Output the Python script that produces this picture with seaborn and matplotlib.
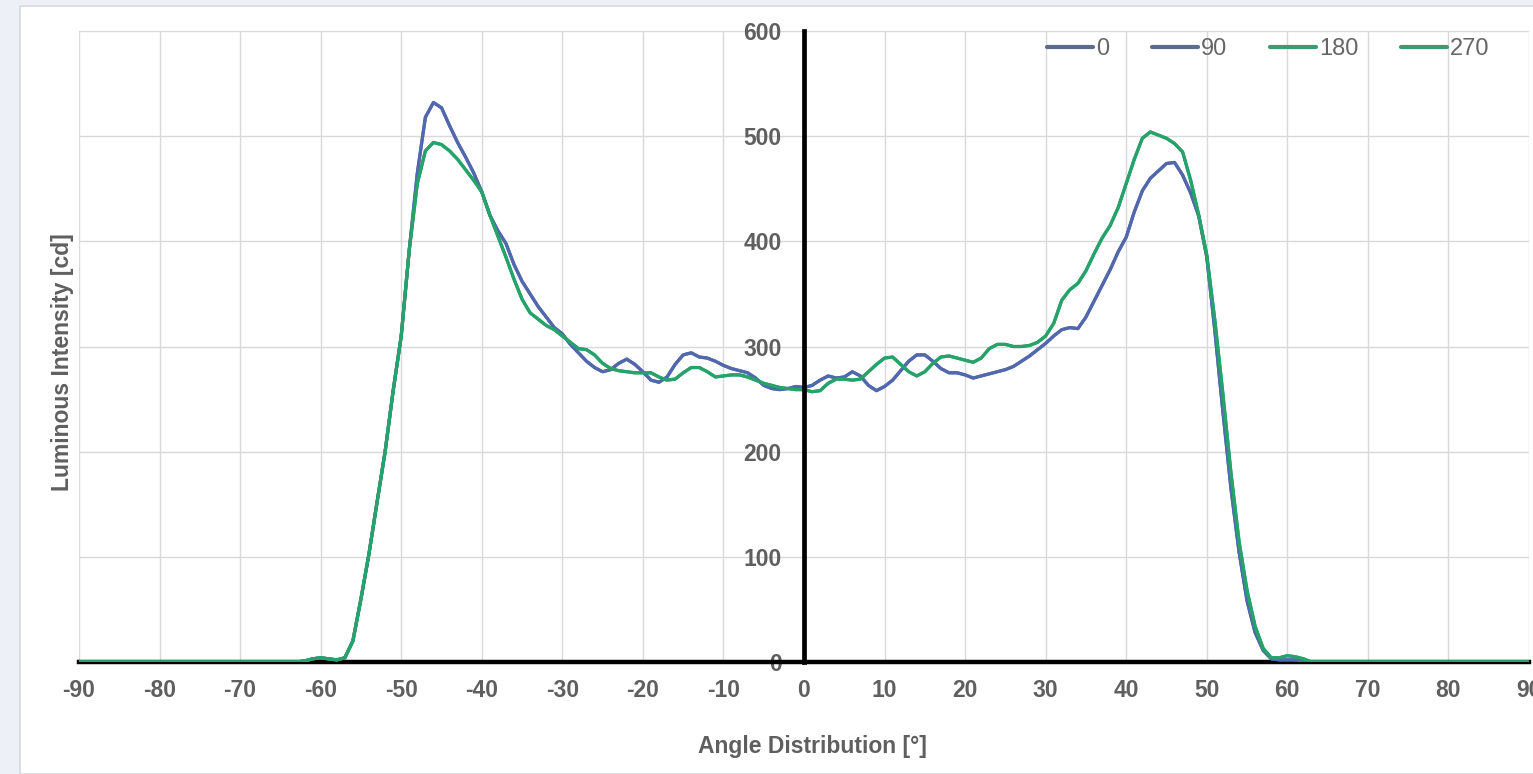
import numpy as np
import pandas as pd
import matplotlib
matplotlib.use("Agg")
import matplotlib.pyplot as plt
from matplotlib.lines import Line2D
from matplotlib.patches import Rectangle
import seaborn as sns

# ------------------------------------------
# Daten (1° Schritte von -90 bis 90)
# ------------------------------------------
angles = list(range(-90, 91))
series_names = ["0", "90", "180", "270"]

blue_mid = [
    1, 3, 4, 3, 2, 4, 20, 60, 103, 152, 200, 258, 310, 392, 465,        # -62 .. -48
    518, 532, 527, 510, 494, 480, 465, 447, 425, 410, 398, 378, 362,    # -47 .. -35
    350, 338, 328, 318, 312, 302, 294, 286, 280, 276, 278, 284, 288,    # -34 .. -22
    283, 276, 268, 266, 271, 283, 292, 294, 290, 289, 286, 282, 279,    # -21 .. -9
    277, 275, 270, 263, 260, 259, 260, 262, 261, 263, 268, 272, 270,    # -8 .. 4
    271, 276, 272, 263, 258, 262, 268, 277, 286, 292, 292, 286, 279,    # 5 .. 17
    275, 275, 273, 270, 272, 274, 276, 278, 281, 286, 291, 297, 303,    # 18 .. 30
    310, 316, 318, 317, 328, 343, 358, 373, 390, 404, 428, 448, 460,    # 31 .. 43
    467, 474, 475, 463, 446, 424, 385, 315, 238, 165, 105, 58, 28,      # 44 .. 56
    11, 3, 2, 2, 2, 1,                                                  # 57 .. 62
]
green_mid = [
    1, 3, 4, 3, 2, 4, 20, 60, 103, 152, 200, 258, 310, 392, 455,        # -62 .. -48
    486, 494, 492, 486, 478, 468, 458, 447, 425, 405, 385, 364, 345,    # -47 .. -35
    332, 326, 320, 316, 310, 304, 298, 297, 292, 284, 279, 277, 276,    # -34 .. -22
    275, 275, 275, 271, 268, 269, 275, 280, 280, 276, 271, 272, 273,    # -21 .. -9
    273, 271, 268, 265, 263, 261, 260, 259, 259, 257, 258, 265, 269,    # -8 .. 4
    269, 268, 269, 276, 283, 289, 290, 283, 276, 272, 276, 284, 290,    # 5 .. 17
    291, 289, 287, 285, 289, 298, 302, 302, 300, 300, 301, 304, 310,    # 18 .. 30
    322, 344, 354, 360, 372, 388, 403, 415, 432, 455, 478, 498, 504,    # 31 .. 43
    501, 498, 493, 485, 458, 425, 387, 325, 255, 180, 115, 68, 34,      # 44 .. 56
    13, 4, 4, 6, 5, 3,                                                  # 57 .. 62
]
pad_left = [0] * 28   # -90 .. -63
pad_right = [0] * 28  # 63 .. 90

s0 = pad_left + blue_mid + pad_right
s90 = pad_left + blue_mid + pad_right
s180 = pad_left + green_mid + pad_right
s270 = pad_left + green_mid + pad_right

line_colors = {"0": "#5268ad", "90": "#5268ad", "180": "#26a26a", "270": "#26a26a"}
legend_colors = {"0": "#5b6d8c", "90": "#5b6d8c", "180": "#3b9c6d", "270": "#3b9c6d"}

df = pd.concat([
    pd.DataFrame({"angle": angles, "intensity": vals, "series": name})
    for name, vals in zip(series_names, [s0, s90, s180, s270])
])

# ------------------------------------------
# Plot
# ------------------------------------------
sns.set_style("white")
plt.rcParams["font.family"] = ["Liberation Sans", "DejaVu Sans"]
plt.rcParams["axes.unicode_minus"] = False

fig = plt.figure(figsize=(15.33, 7.74), dpi=100, facecolor="#edf0f7")
fig.patches.append(Rectangle((20 / 1533, 0), 1.0, 1 - 6 / 774, transform=fig.transFigure,
                             facecolor="white", edgecolor="#d6d9de", linewidth=1.2, zorder=-10))

ax = fig.add_axes([79 / 1533, 1 - 662 / 774, 1450 / 1533, 631 / 774])
ax.set_facecolor("white")

sns.lineplot(data=df, x="angle", y="intensity", hue="series", hue_order=series_names,
             palette=line_colors, linewidth=2.3, legend=False, ax=ax)
for ln in ax.lines:
    ln.set_zorder(3)
    ln.set_solid_joinstyle("round")
    ln.set_solid_capstyle("round")

ax.set_xlim(-90, 90)
ax.set_ylim(0, 600)
ax.set_xticks(range(-90, 91, 10))
ax.set_yticks(range(0, 601, 100))
ax.grid(True, color="#d9d9d9", linewidth=1)
ax.set_axisbelow(True)

for side in ["top", "right"]:
    ax.spines[side].set_visible(False)
ax.spines["left"].set_position(("data", 0))
ax.spines["left"].set_linewidth(3.4)
ax.spines["left"].set_color("black")
ax.spines["left"].set_zorder(5)
ax.spines["bottom"].set_linewidth(3.2)
ax.spines["bottom"].set_color("black")

ax.tick_params(axis="x", direction="out", length=3, width=3, color="black", pad=9,
               labelsize=16.5, labelcolor="#5f5f5f")
ax.tick_params(axis="y", length=0, pad=16, labelsize=16.5, labelcolor="#5f5f5f")
for lab in ax.get_xticklabels() + ax.get_yticklabels():
    lab.set_fontweight("bold")

ax.set_xlabel("")
ax.set_ylabel("")
fig.text(63 / 1533, 1 - 362 / 774, "Luminous Intensity [cd]", rotation=90, ha="center", va="center",
         fontsize=16.5, fontweight="bold", color="#5f5f5f")
fig.text(812 / 1533, 1 - 747 / 774, "Angle Distribution [°]", ha="center", va="center",
         fontsize=16.5, fontweight="bold", color="#5f5f5f")

handles = [Line2D([0], [0], color=legend_colors[n], linewidth=3) for n in series_names]
fig.legend(handles, series_names, loc="center left", bbox_to_anchor=(1047 / 1533, 1 - 49 / 774),
           bbox_transform=fig.transFigure, ncol=4, frameon=False, fontsize=17,
           handlelength=1.95, handletextpad=0.15, columnspacing=1.78, borderpad=0,
           borderaxespad=0, labelcolor="#666666")

fig.savefig("out.png", dpi=100, facecolor=fig.get_facecolor())
